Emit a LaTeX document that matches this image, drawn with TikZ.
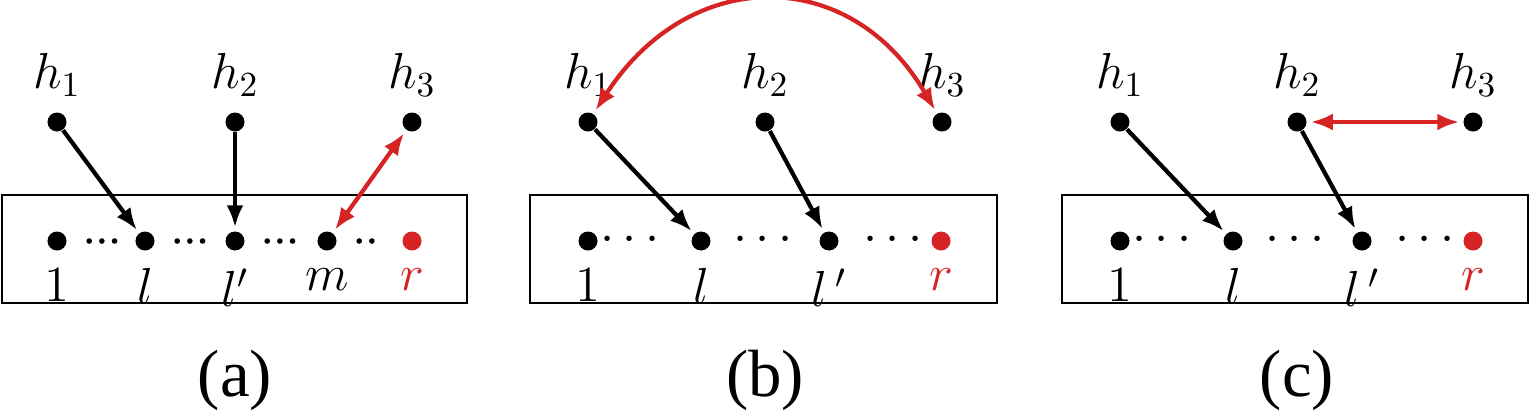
\documentclass[tikz,border=0pt]{standalone}
\usepackage{fontspec}
\setmainfont{Liberation Serif}
\usetikzlibrary{arrows.meta}
\definecolor{myred}{RGB}{214,36,36}
\tikzset{
  pt/.style={circle, fill=black, inner sep=0pt, minimum size=0.19cm},
  rpt/.style={pt, fill=myred},
  lbl/.style={font=\fontsize{14}{16}\selectfont},
  captext/.style={font=\rmfamily\fontsize{19}{21}\selectfont},
  arr/.style={-{Latex[length=0.22cm,width=0.17cm]}, line width=1.2pt, shorten >=1pt},
  rarr/.style={{Latex[length=0.22cm,width=0.17cm]}-{Latex[length=0.22cm,width=0.17cm]}, line width=1.2pt, myred, shorten >=1pt, shorten <=1pt},
  dots/.style={line width=1.6pt, dash pattern=on 0pt off 3.6pt, line cap=round, shorten <=0.22cm, shorten >=0.18cm},
  box/.style={line width=0.8pt}
}
\begin{document}
\begin{tikzpicture}[x=0.01cm,y=-0.01cm]
\useasboundingbox (0,0) rectangle (1530,417);
% (a)
\draw[box] (2,195) rectangle (467,303);
\node[pt] (a1) at (57,241) {};
\node[pt] (al) at (145,241) {};
\node[pt] (alp) at (235,241) {};
\node[pt] (am) at (327,241) {};
\node[rpt] (ar) at (412,241) {};
\draw[dots] (a1) -- (al);
\draw[dots] (al) -- (alp);
\draw[dots] (alp) -- (am);
\draw[dots] (am) -- (ar);
\foreach \n/\t in {a1/1,al/l,alp/l',am/m}
  \node[lbl, below=0.05cm] at (\n.south) {$\t$};
\node[lbl, below=0.05cm, myred] at (ar.south) {$r$};
\node[pt] (ah1) at (57,122) {};
\node[pt] (ah2) at (235,122) {};
\node[pt] (ah3) at (412,122) {};
\node[lbl, above=0.03cm] at (ah1.north) {$h_1$};
\node[lbl, above=0.03cm] at (ah2.north) {$h_2$};
\node[lbl, above=0.03cm] at (ah3.north) {$h_3$};
\draw[arr] (ah1) -- (al);
\draw[arr] (ah2) -- (alp);
\draw[rarr] (ah3) -- (am);
\node[captext] (capa) at (235,380) {(a)};
% (b)
\draw[box] (530,195) rectangle (997,303);
\node[pt] (b1) at (588,241) {};
\node[pt] (bl) at (701,241) {};
\node[pt] (blp) at (829,241) {};
\node[rpt] (br) at (941,241) {};
\node[lbl] at (630,240) {$\cdots$};
\node[lbl] at (763,240) {$\cdots$};
\node[lbl] at (893,240) {$\cdots$};
\foreach \n/\t in {b1/1,bl/l,blp/l\,'}
  \node[lbl, below=0.05cm] at (\n.south) {$\t$};
\node[lbl, below=0.05cm, myred] at (br.south) {$r$};
\node[pt] (bh1) at (588,122) {};
\node[pt] (bh2) at (765,122) {};
\node[pt] (bh3) at (942,122) {};
\node[lbl, above=0.03cm] at (bh1.north) {$h_1$};
\node[lbl, above=0.03cm] at (bh2.north) {$h_2$};
\node[lbl, above=0.03cm] at (bh3.north) {$h_3$};
\draw[arr] (bh1) -- (bl);
\draw[arr] (bh2) -- (blp);
\draw[rarr] (bh1) .. controls (690,-35) and (850,-35) .. (bh3);
\node[captext] (capb) at (765,380) {(b)};
% (c)
\draw[box] (1062,195) rectangle (1528,303);
\node[pt] (c1) at (1120,241) {};
\node[pt] (cl) at (1233,241) {};
\node[pt] (clp) at (1362,241) {};
\node[rpt] (cr) at (1473,241) {};
\node[lbl] at (1162,240) {$\cdots$};
\node[lbl] at (1295,240) {$\cdots$};
\node[lbl] at (1425,240) {$\cdots$};
\foreach \n/\t in {c1/1,cl/l,clp/l\,'}
  \node[lbl, below=0.05cm] at (\n.south) {$\t$};
\node[lbl, below=0.05cm, myred] at (cr.south) {$r$};
\node[pt] (ch1) at (1120,122) {};
\node[pt] (ch2) at (1297,122) {};
\node[pt] (ch3) at (1473,122) {};
\node[lbl, above=0.03cm] at (ch1.north) {$h_1$};
\node[lbl, above=0.03cm] at (ch2.north) {$h_2$};
\node[lbl, above=0.03cm] at (ch3.north) {$h_3$};
\draw[arr] (ch1) -- (cl);
\draw[arr] (ch2) -- (clp);
\draw[rarr] (ch2) -- (ch3);
\node[captext] (capc) at (1297,380) {(c)};
\end{tikzpicture}
\end{document}
